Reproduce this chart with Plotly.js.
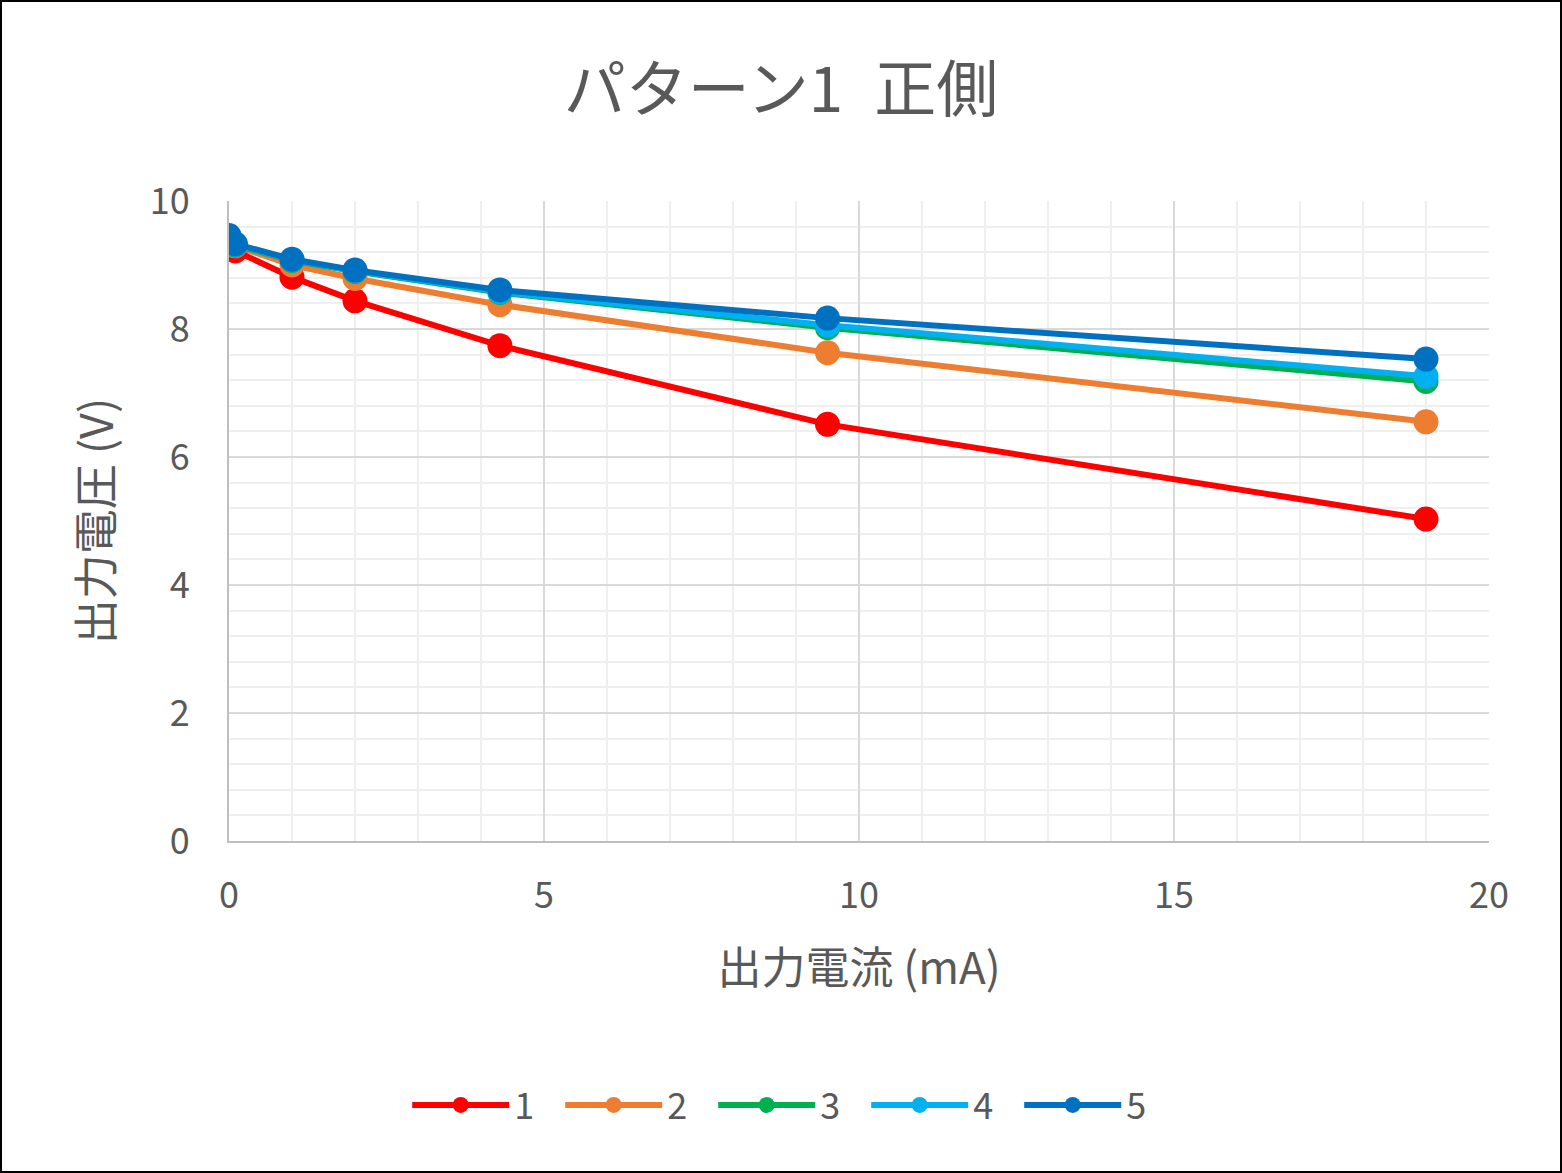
<!DOCTYPE html>
<html>
<head>
<meta charset="utf-8">
<script src="https://cdn.plot.ly/plotly-3.0.1.min.js"></script>
<style>
  body { margin: 0; background: #fff; }
  #frame { width: 1562px; height: 1173px; box-sizing: border-box; border: 2px solid #000; }
  #chart { width: 1558px; height: 1169px; }
</style>
</head>
<body>
<div id="frame"><div id="chart"></div></div>
<script>
// 出力電流 (mA)
const current = [0, 0.1, 1, 2, 4.3, 9.5, 19];

// 出力電圧 (V) per series
const v1 = [9.37, 9.22, 8.81, 8.44, 7.74, 6.51, 5.03];
const v2 = [9.40, 9.30, 9.00, 8.79, 8.38, 7.63, 6.55];
const v3 = [9.42, 9.31, 9.07, 8.90, 8.57, 8.02, 7.18];
const v4 = [9.44, 9.32, 9.08, 8.91, 8.58, 8.06, 7.26];
const v5 = [9.46, 9.33, 9.09, 8.92, 8.61, 8.17, 7.53];

const names = ['1', '2', '3', '4', '5'];
const colors = ['#ff0000', '#ed7d31', '#00b050', '#00b0f0', '#0070c0'];
const series = [v1, v2, v3, v4, v5];

const font = '"Noto Sans CJK JP", "Noto Sans", sans-serif';
const grey = '#595959';

const data = series.map((v, i) => ({
    x: current,
    y: v,
    name: names[i],
    type: 'scatter',
    mode: 'lines+markers',
    line: { color: colors[i], width: 6 },
    marker: { color: colors[i], size: 25 }
}));

const layout = {
    width: 1558,
    height: 1169,
    margin: { l: 227, r: 71, t: 199, b: 330 },
    paper_bgcolor: '#fff',
    plot_bgcolor: '#fff',
    font: { family: font, color: grey },
    title: {
        text: 'パターン1\u2002正側',
        font: { size: 62, color: grey, family: font },
        x: 0.5, xanchor: 'center',
        y: 1 - 88 / 1169, yanchor: 'middle'
    },
    xaxis: {
        range: [0, 20],
        dtick: 5,
        tickfont: { size: 36 },
        ticklabelstandoff: 22,
        showgrid: true,
        gridcolor: '#d9d9d9',
        gridwidth: 2,
        zeroline: false,
        showline: true,
        linecolor: '#bfbfbf',
        linewidth: 2,
        minor: { dtick: 1, showgrid: true, gridcolor: '#efefef', gridwidth: 2 },
        title: { text: '出力電流 (mA)', font: { size: 44 }, standoff: 36 }
    },
    yaxis: {
        range: [0, 10],
        dtick: 2,
        tickfont: { size: 36 },
        ticklabelstandoff: 30,
        showgrid: true,
        gridcolor: '#d9d9d9',
        gridwidth: 2,
        zeroline: false,
        showline: true,
        linecolor: '#bfbfbf',
        linewidth: 2,
        minor: { dtick: 0.4, showgrid: true, gridcolor: '#efefef', gridwidth: 2 },
        title: { text: '出力電圧 (V)', font: { size: 45 }, standoff: 22 }
    },
    showlegend: true,
    legend: {
        orientation: 'h',
        x: 0.445, xanchor: 'center',
        y: -0.4125, yanchor: 'middle',
        font: { size: 36, color: grey },
        itemwidth: 97,
        entrywidth: 41
    }
};

Plotly.newPlot('chart', data, layout, { displayModeBar: false, staticPlot: true });
</script>
</body>
</html>
